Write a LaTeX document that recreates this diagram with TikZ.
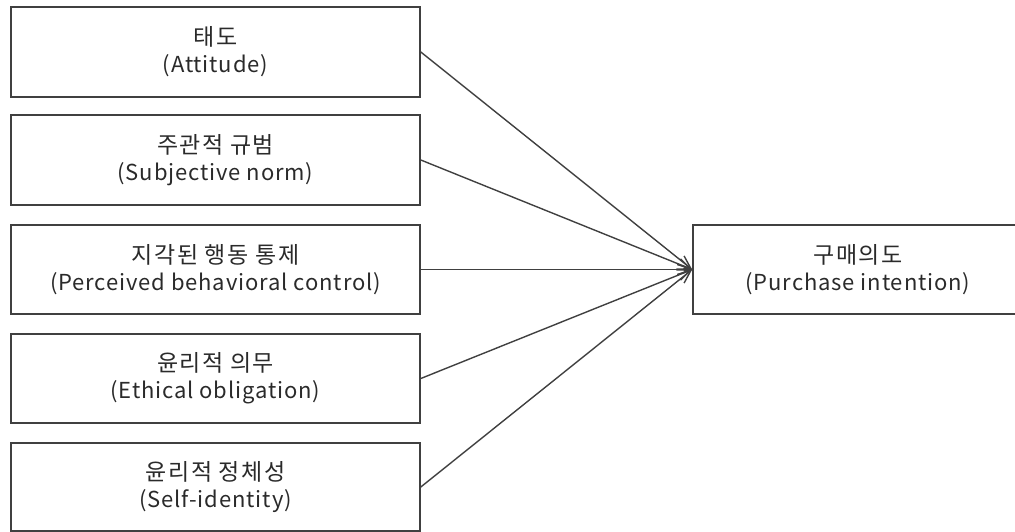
\documentclass[tikz,border=0pt]{standalone}
\usepackage{fontspec}
\setmainfont{Noto Sans CJK KR}
\newfontfamily\latinsp[LetterSpace=4]{Noto Sans CJK KR}
\newfontfamily\korsp[LetterSpace=6.5]{Noto Sans CJK KR}
\usetikzlibrary{arrows.meta}
\definecolor{edge}{HTML}{404040}
\definecolor{txt}{HTML}{2a2a2a}
\newcommand{\en}[1]{{\latinsp #1}}
\newcommand{\ko}[1]{{\fontsize{23}{27}\korsp #1}}
\tikzset{
  box/.style={draw=edge, line width=1.6pt, minimum width=409pt, align=center,
    text=txt, font=\fontsize{22}{27}\selectfont, inner sep=0pt},
  link/.style={draw=edge, line width=1.4pt, -{Straight Barb[length=13pt,width=11pt,line width=1.4pt]}}
}
\begin{document}
\begin{tikzpicture}[x=1pt,y=-1pt]
\useasboundingbox (0,0) rectangle (1015,532);
\node[box, minimum height=90pt] (a) at (215.5,52) {\ko{태도}\\\en{(Attitude)}};
\node[box, minimum height=90pt] (b) at (215.5,160) {\ko{주관적 규범}\\\en{(Subjective norm)}};
\node[box, minimum height=89pt] (c) at (215.5,269.5) {\ko{지각된 행동 통제}\\\en{(Perceived behavioral control)}};
\node[box, minimum height=89pt] (d) at (215.5,378.5) {\ko{윤리적 의무}\\\en{(Ethical obligation)}};
\node[box, minimum height=88pt] (e) at (215.5,487) {\ko{윤리적 정체성}\\\en{(Self-identity)}};
\node[box, minimum width=330pt, minimum height=89pt] (p) at (858,269.5) {\ko{구매의도}\\\en{(Purchase intention)}};
\draw[link] (a.east) -- (p.west);
\draw[link] (b.east) -- (p.west);
\draw[link] (c.east) -- (p.west);
\draw[link] (d.east) -- (p.west);
\draw[link] (e.east) -- (p.west);
\end{tikzpicture}
\end{document}
